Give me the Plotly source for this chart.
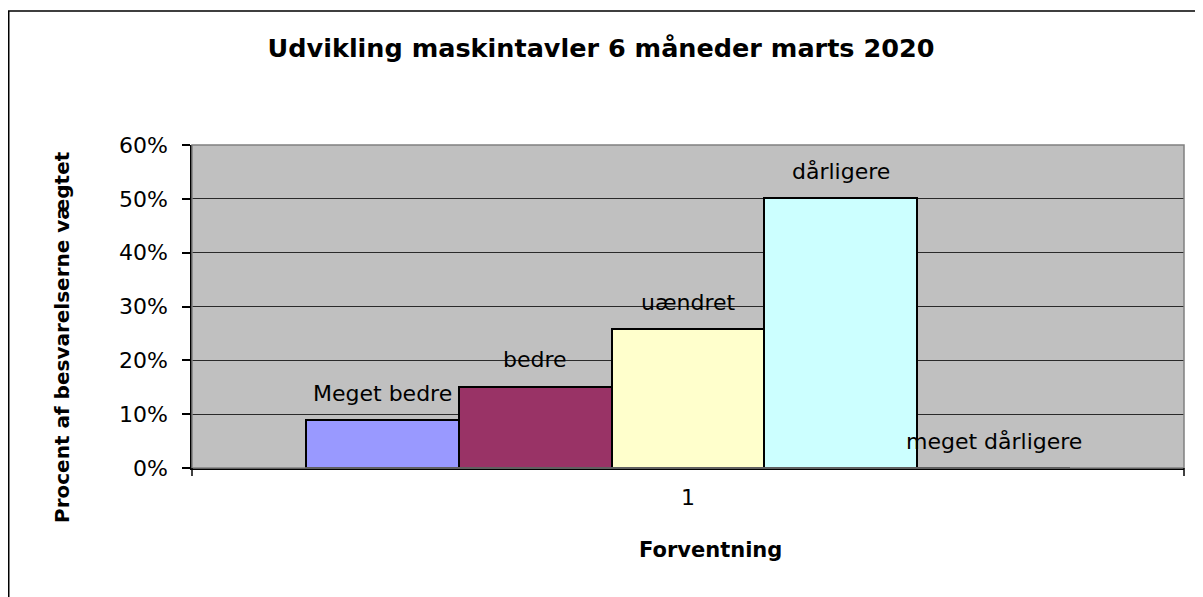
import plotly.graph_objects as go

categories = ["Meget bedre", "bedre", "uændret", "dårligere", "meget dårligere"]
values = [0.089, 0.151, 0.258, 0.501, 0.0]
colors = ["#9999FF", "#993366", "#FFFFCC", "#CCFFFF", "#660066"]
y_ticks = [0, 0.1, 0.2, 0.3, 0.4, 0.5, 0.6]
x_tick_label = "1"

FONT = "'DejaVu Sans', Arial, sans-serif"

W, H = 1195, 589          # page body has an 8px margin
L, T, PW, PH = 184, 137, 992, 323

fig = go.Figure()
fig.add_trace(go.Bar(
    x=categories, y=values,
    marker=dict(color=colors, line=dict(color="black", width=2)),
    width=1.0, showlegend=False, hoverinfo="x+y",
))

for c, v in zip(categories, values):
    fig.add_annotation(x=c, y=v, xref="x", yref="y", text=c, showarrow=False,
                       yanchor="middle", yshift=27,
                       font=dict(family=FONT, size=22, color="black"))

fig.update_layout(
    width=W, height=H,
    margin=dict(l=L, r=W - L - PW, t=T, b=H - T - PH, pad=0),
    paper_bgcolor="white", plot_bgcolor="#C0C0C0",
    bargap=0,
    title=dict(text="<b>Udvikling maskintavler 6 måneder marts 2020</b>",
               x=593 / W, xanchor="center", xref="container",
               y=1 - 40 / H, yanchor="middle", yref="container",
               font=dict(family=FONT, size=25.5, color="black")),
    font=dict(family=FONT, size=22, color="black"),
)

fig.update_xaxes(
    range=[-1.246, 5.246], tickvals=[categories[2]], ticktext=[x_tick_label],
    ticks="", showgrid=False, showline=True, linecolor="black", linewidth=1.5,
    ticklabelstandoff=9, tickfont=dict(family=FONT, size=22, color="black"),
    fixedrange=True,
)
fig.update_yaxes(
    range=[0, 0.6], tickvals=y_ticks, tickformat=".0%",
    ticks="outside", ticklen=8, tickcolor="black", tickwidth=1.5,
    showgrid=True, gridcolor="#2a2a2a", gridwidth=1,
    showline=True, linecolor="black", linewidth=1.5,
    tickfont=dict(family=FONT, size=22, color="black"),
    ticklabelstandoff=10, zeroline=False,
)

# plot area border (gray)
fig.add_shape(type="rect", xref="paper", yref="paper", x0=0, x1=1, y0=0, y1=1,
              line=dict(color="#808080", width=1.5), layer="above")
# category-boundary ticks on x axis
for xp in (0, 1):
    fig.add_shape(type="line", xref="paper", yref="paper", x0=xp, x1=xp, y0=0, y1=-0.025,
                  line=dict(color="black", width=1.5))
# outer chart border
fig.add_shape(type="rect", xref="paper", yref="paper",
              x0=(0.75 - L) / PW, x1=1.06, y0=-0.5, y1=(T + PH - 3) / PH,
              line=dict(color="black", width=1.5))

fig.add_annotation(text="<b>Procent af besvarelserne vægtet</b>", xref="paper", yref="paper",
                   x=(54 - L) / PW, y=(460 - 329) / PH, textangle=-90, showarrow=False,
                   xanchor="center", yanchor="middle",
                   font=dict(family=FONT, size=20, color="black"))
fig.add_annotation(text="<b>Forventning</b>", xref="paper", yref="paper",
                   x=(702 - L) / PW, y=(460 - 542) / PH, showarrow=False,
                   xanchor="center", yanchor="middle",
                   font=dict(family=FONT, size=21, color="black"))

fig.write_html("out.html")
